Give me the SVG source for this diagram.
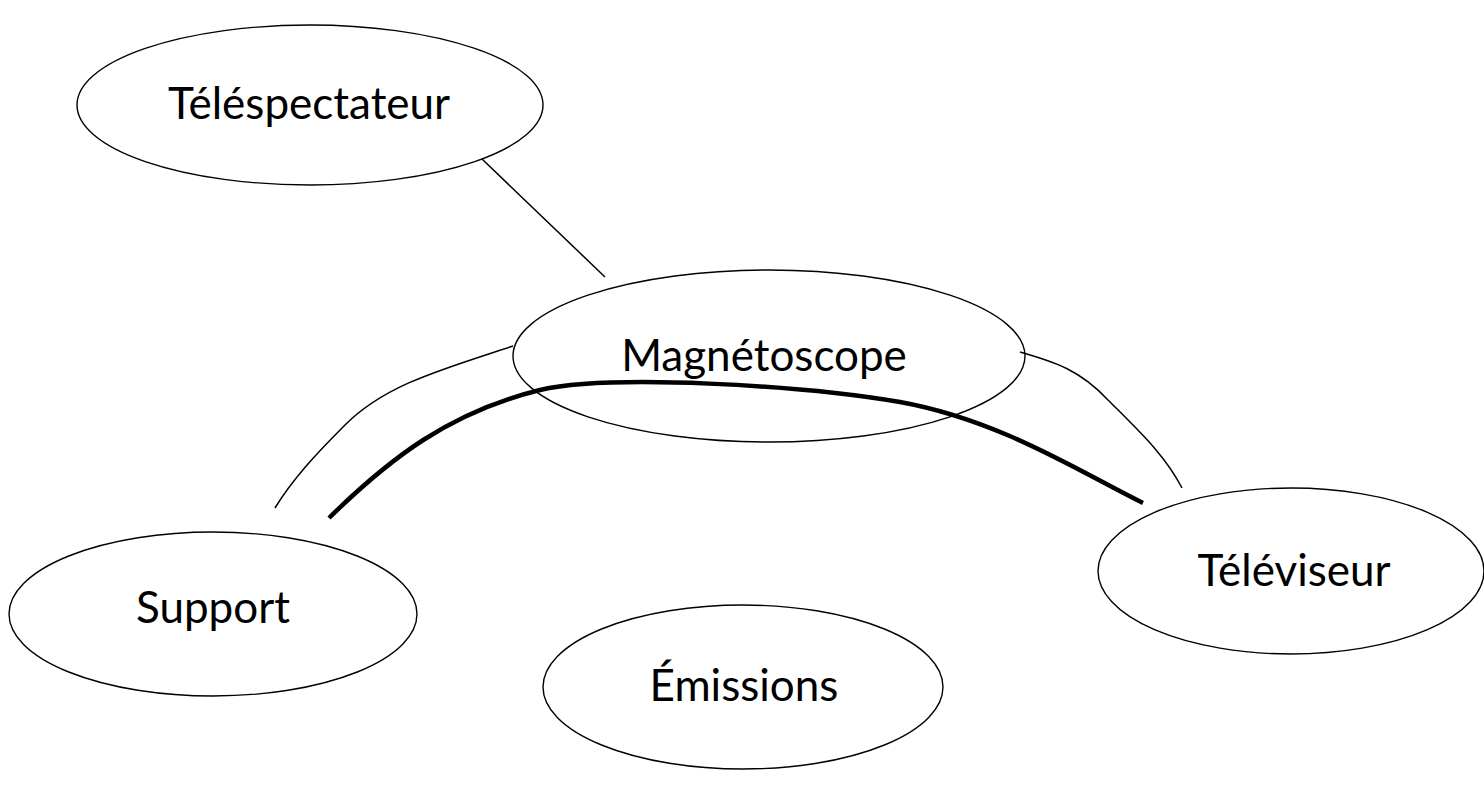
<svg xmlns="http://www.w3.org/2000/svg" width="1484" height="794" viewBox="0 0 1484 794">
  <style>
    .node ellipse { fill: #ffffff; stroke: #000000; stroke-width: 1.4; }
    .node text { font-family: Lato, "Open Sans", "Liberation Sans", sans-serif; font-size: 44px; fill: #000000; text-anchor: middle; }
    .thin { fill: none; stroke: #000000; stroke-width: 1.5; }
    .thick { fill: none; stroke: #000000; stroke-width: 4.5; }
  </style>
  <rect width="1484" height="794" fill="#ffffff"/>

  <g id="node-telespectateur" class="node">
    <ellipse cx="310" cy="105" rx="233" ry="80"/>
    <text x="309" y="119">Téléspectateur</text>
  </g>
  <g id="node-magnetoscope" class="node">
    <ellipse cx="769" cy="356" rx="256" ry="86"/>
    <text x="764" y="371">Magnétoscope</text>
  </g>
  <g id="node-support" class="node">
    <ellipse cx="213" cy="614" rx="204" ry="82"/>
    <text x="213" y="623">Support</text>
  </g>
  <g id="node-televiseur" class="node">
    <ellipse cx="1291" cy="571" rx="193" ry="83"/>
    <text x="1294" y="586">Téléviseur</text>
  </g>
  <g id="node-emissions" class="node">
    <ellipse cx="743" cy="687" rx="200" ry="82"/>
    <text x="744" y="701">Émissions</text>
  </g>

  <g id="connectors">
    <line class="thin" x1="482" y1="159" x2="605" y2="277"/>
    <path class="thin" d="M513,346 C440,370 385,385 345,425 C315,455 292,480 275,508"/>
    <path class="thin" d="M1020,352 C1055,362 1080,370 1108,400 C1140,432 1165,455 1182,488"/>
    <path class="thick" d="M329,518 C390,458 450,412 540,390 C610,374 800,385 900,402 C1000,420 1080,472 1143,503"/>
  </g>
</svg>
